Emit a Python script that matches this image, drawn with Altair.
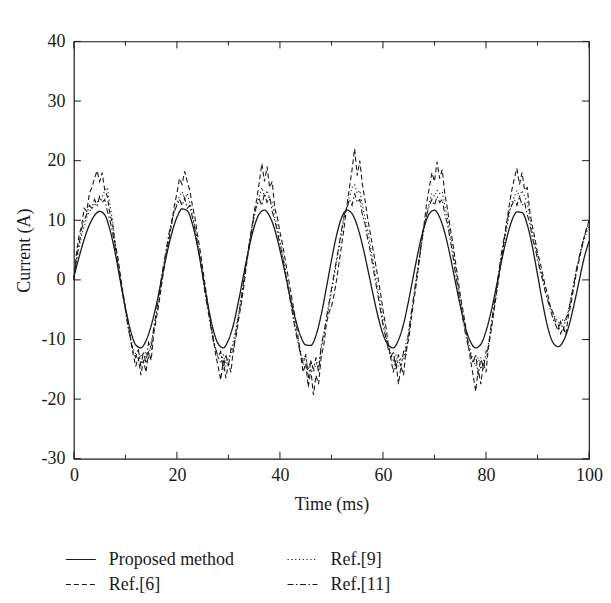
import altair as alt
import pandas as pd

# ---------------- data ----------------
series_names = ["Proposed method", "Ref.[6]", "Ref.[9]", "Ref.[11]"]

# Proposed method, sampled every 1 ms (t = 0 .. 100)
proposed = [
    0.5, 3.8, 6.8, 9.2, 10.8, 11.5, 10.9, 8.4, 4.6, -0.1,
    -4.7, -8.5, -10.9, -11.4, -10.2, -7.7, -4.2, 0.0, 4.2, 7.8,
    10.5, 11.9, 11.6, 9.4, 5.6, 0.8, -4.1, -8.2, -10.7, -11.4,
    -10.1, -7.4, -3.4, 1.1, 5.4, 8.9, 11.1, 11.7, 10.7, 8.4,
    5.0, 1.1, -3.0, -6.6, -9.4, -10.9, -11.0, -9.3, -5.9, -1.4,
    3.3, 7.5, 10.5, 11.7, 11.1, 9.1, 5.9, 2.0, -2.1, -6.0,
    -9.1, -10.9, -11.4, -10.1, -7.4, -3.4, 1.1, 5.4, 8.9, 11.1,
    11.7, 10.5, 7.9, 4.2, -0.1, -4.3, -8.0, -10.4, -11.4, -10.8,
    -8.6, -5.3, -1.2, 3.1, 6.9, 9.9, 11.4, 11.3, 9.3, 5.6,
    0.9, -3.9, -8.0, -10.5, -11.2, -10.3, -8.0, -4.5, -0.5, 3.5,
    6.5,
]

# Ref.[6], sampled every 0.5 ms (t = 0 .. 100)
ref6 = [
    0.0, 4.5, 7.5, 9.0, 12.0, 11.5, 14.5, 15.5, 17.0, 18.3,
    16.5, 18.0, 15.0, 14.0, 11.0, 9.5, 6.0, 4.0, 1.0, -2.0,
    -4.5, -7.0, -10.0, -12.5, -14.5, -13.0, -16.0, -13.5, -15.5, -12.0,
    -13.5, -9.0, -6.5, -4.0, -1.0, 2.0, 4.5, 7.0, 9.5, 12.5,
    14.5, 17.0, 16.0, 18.2, 16.5, 15.0, 12.5, 10.5, 7.5, 5.0,
    2.0, -1.0, -4.0, -7.0, -9.5, -12.5, -14.5, -16.8, -13.5, -16.5,
    -14.0, -15.5, -11.0, -9.5, -6.5, -4.0, -1.0, 2.5, 5.5, 8.5,
    11.5, 13.5, 16.5, 19.5, 16.5, 19.0, 15.5, 16.5, 12.0, 10.5,
    8.0, 6.0, 3.5, 1.0, -1.5, -4.0, -6.5, -9.5, -12.5, -15.5,
    -14.0, -18.0, -15.0, -19.3, -16.0, -17.5, -13.0, -11.0, -7.5, -5.5,
    -4.5, -2.5, 0.0, 3.0, 6.0, 9.0, 12.5, 15.5, 18.5, 22.0,
    17.5, 20.0, 16.0, 13.5, 10.5, 8.0, 5.5, 3.0, 0.5, -2.0,
    -5.0, -7.5, -10.5, -13.0, -15.5, -13.5, -17.5, -14.5, -16.0, -11.5,
    -10.0, -6.5, -3.5, -0.5, 3.0, 6.5, 9.5, 13.0, 15.5, 18.0,
    16.5, 19.8, 17.0, 18.5, 14.5, 12.0, 9.0, 6.5, 3.5, 0.5,
    -2.5, -5.0, -7.5, -10.5, -13.5, -16.0, -18.7, -15.0, -17.5, -14.0,
    -15.5, -11.0, -8.5, -5.5, -2.5, 0.5, 3.5, 6.5, 9.5, 12.5,
    15.0, 17.0, 18.7, 16.0, 18.0, 15.0, 15.5, 11.5, 9.0, 7.0,
    4.5, 3.0, 1.0, -1.0, -2.5, -4.5, -5.5, -7.0, -7.5, -9.0,
    -8.0, -9.2, -6.0, -4.0, -1.5, 1.0, 3.0, 5.0, 7.0, 8.5,
    10.0,
]

# Ref.[9], sampled every 0.5 ms
ref9 = [
    0.5, 3.0, 5.5, 7.5, 9.0, 10.5, 11.5, 12.0, 12.5, 13.0,
    13.5, 14.0, 15.0, 15.5, 12.5, 10.0, 6.5, 3.5, 0.5, -2.5,
    -5.0, -7.5, -9.5, -11.5, -12.5, -13.5, -12.5, -14.0, -12.0, -13.0,
    -10.5, -8.5, -6.0, -3.5, -0.5, 2.5, 5.0, 7.5, 9.5, 11.5,
    13.0, 14.0, 14.8, 13.5, 14.5, 13.0, 11.0, 9.0, 6.5, 4.0,
    1.0, -2.0, -4.5, -7.0, -9.5, -11.5, -13.0, -14.0, -12.5, -14.5,
    -13.0, -12.5, -10.0, -8.0, -5.5, -3.0, 0.0, 3.0, 5.5, 8.0,
    10.5, 12.5, 14.0, 15.5, 14.0, 15.0, 13.5, 13.0, 10.5, 9.0,
    6.5, 4.5, 2.0, -0.5, -3.0, -5.5, -8.0, -10.0, -12.0, -13.5,
    -13.0, -15.0, -13.5, -15.5, -14.0, -14.5, -11.5, -9.5, -7.0, -4.5,
    -2.0, 0.5, 3.0, 5.5, 8.0, 10.5, 12.5, 14.0, 15.5, 16.0,
    14.5, 15.0, 12.5, 10.5, 8.5, 6.0, 3.5, 1.0, -1.5, -4.0,
    -6.5, -9.0, -11.0, -12.5, -13.5, -12.5, -14.5, -13.0, -13.5, -10.5,
    -9.0, -6.0, -3.0, 0.0, 3.0, 6.0, 8.5, 11.0, 13.0, 14.5,
    14.0, 15.0, 14.5, 14.8, 12.5, 10.5, 8.0, 5.5, 2.5, -0.5,
    -3.0, -5.5, -8.0, -10.0, -12.0, -13.5, -14.5, -13.0, -15.0, -13.5,
    -13.5, -10.5, -8.0, -5.5, -2.5, 0.5, 3.5, 6.0, 8.5, 11.0,
    13.0, 14.0, 15.0, 14.0, 15.0, 14.0, 13.0, 10.5, 8.0, 6.0,
    4.0, 2.0, 0.5, -1.5, -3.0, -4.5, -5.5, -6.5, -7.0, -7.5,
    -6.5, -7.0, -5.0, -3.0, -0.5, 1.5, 3.5, 5.0, 6.5, 8.0,
    9.0,
]

# Ref.[11], sampled every 0.5 ms
ref11 = [
    0.0, 3.5, 6.0, 8.5, 10.0, 11.0, 12.5, 12.0, 13.5, 12.5,
    14.0, 13.0, 13.5, 11.5, 10.0, 8.0, 5.5, 3.0, 0.0, -2.5,
    -5.0, -8.0, -10.0, -12.0, -13.0, -11.5, -14.5, -12.0, -14.0, -10.5,
    -11.5, -8.0, -5.5, -2.5, 0.5, 3.0, 5.5, 8.0, 10.0, 11.5,
    12.5, 13.5, 12.5, 13.8, 12.0, 12.5, 10.5, 8.5, 6.0, 3.5,
    0.5, -2.5, -5.0, -7.5, -10.0, -11.5, -13.0, -12.0, -15.0, -12.5,
    -14.5, -11.5, -12.0, -8.5, -6.0, -3.0, 0.0, 3.0, 6.0, 8.5,
    11.0, 12.5, 13.5, 12.5, 14.5, 13.0, 14.0, 11.5, 10.0, 8.0,
    6.0, 4.0, 1.5, -1.0, -3.5, -6.0, -8.5, -10.5, -12.5, -14.0,
    -12.5, -16.5, -13.5, -15.0, -13.0, -15.5, -11.0, -9.0, -6.5, -4.0,
    -1.5, 1.0, 3.5, 6.0, 8.5, 11.0, 12.0, 13.5, 12.5, 14.5,
    13.0, 13.5, 11.0, 9.5, 7.0, 5.0, 2.5, 0.0, -2.5, -5.0,
    -7.5, -9.5, -11.5, -13.0, -12.0, -15.0, -12.5, -14.5, -12.0, -12.5,
    -8.5, -5.5, -2.5, 0.5, 3.5, 6.5, 9.0, 11.0, 12.5, 13.5,
    12.5, 14.0, 13.0, 13.5, 11.0, 9.5, 7.0, 4.5, 1.5, -1.0,
    -4.0, -6.5, -9.0, -11.0, -12.5, -14.0, -12.5, -16.0, -13.0, -15.0,
    -12.0, -11.5, -7.5, -4.5, -1.5, 1.5, 4.5, 7.0, 9.5, 11.5,
    12.5, 13.5, 12.5, 14.0, 12.5, 13.0, 11.0, 9.5, 7.0, 5.5,
    3.5, 1.5, 0.0, -2.0, -3.5, -5.0, -6.5, -7.5, -8.5, -7.0,
    -8.5, -6.5, -5.5, -3.0, -1.0, 1.5, 3.5, 5.5, 7.0, 8.5,
    9.5,
]

y_tick_values = [-30, -20, -10, 0, 10, 20, 30, 40]
x_major_ticks = [0, 20, 40, 60, 80, 100]
x_minor_ticks = [10, 30, 50, 70, 90]

# ---------------- tables ----------------
t_prop = [float(i) for i in range(len(proposed))]
t_ref = [i * 0.5 for i in range(len(ref6))]

frames = [
    pd.DataFrame({"t": t_prop, "v": proposed, "series": "Proposed method"}),
    pd.DataFrame({"t": t_ref, "v": ref6, "series": "Ref.[6]"}),
    pd.DataFrame({"t": t_ref, "v": ref9, "series": "Ref.[9]"}),
    pd.DataFrame({"t": t_ref, "v": ref11, "series": "Ref.[11]"}),
]
data = pd.concat(frames, ignore_index=True)

ytick_df = pd.DataFrame({"v": y_tick_values})
xmaj_df = pd.DataFrame({"t": x_major_ticks})
xmin_df = pd.DataFrame({"t": x_minor_ticks})

FONT = "Liberation Serif"
W, H = 516, 418
INK = "#1a1a1a"

x_scale = alt.Scale(domain=[0, 100], nice=False, zero=False)
y_scale = alt.Scale(domain=[-30, 40], nice=False, zero=False)

dash_scale = alt.Scale(
    domain=series_names,
    range=[[1, 0], [5, 3], [1.2, 2.6], [6, 2.5, 1.5, 2.5]],
)

legend = alt.Legend(
    title=None,
    orient="none",
    legendX=-9,
    legendY=503,
    columns=2,
    columnPadding=50,
    rowPadding=-7,
    symbolType="stroke",
    symbolSize=900,
    symbolStrokeWidth=1.1,
    symbolStrokeColor=INK,
    labelFont=FONT,
    labelFontSize=18,
    labelColor=INK,
    labelOffset=12,
    labelLimit=400,
    padding=0,
)

x_axis = alt.Axis(
    values=x_major_ticks,
    ticks=False,
    tickSize=0,
    domain=False,
    grid=False,
    labelFlush=False,
    labelPadding=8,
    labelFont=FONT,
    labelFontSize=18,
    labelColor=INK,
    labelExpr="'' + datum.value",
    title="Time (ms)",
    titleFont=FONT,
    titleFontSize=18,
    titleFontWeight="normal",
    titleColor=INK,
    titlePadding=11,
)
y_axis = alt.Axis(
    values=y_tick_values,
    ticks=False,
    tickSize=0,
    domain=False,
    grid=False,
    labelFlush=False,
    labelPadding=9,
    labelFont=FONT,
    labelFontSize=18,
    labelColor=INK,
    labelExpr="'' + datum.value",
    title="Current (A)",
    titleFont=FONT,
    titleFontSize=18,
    titleFontWeight="normal",
    titleColor=INK,
    titlePadding=7,
)

base = alt.Chart(data)

solid = base.transform_filter(alt.datum.series == "Proposed method").mark_line(
    interpolate="monotone", color=INK, strokeWidth=1.3
).encode(
    x=alt.X("t:Q", scale=x_scale, axis=x_axis),
    y=alt.Y("v:Q", scale=y_scale, axis=y_axis),
    strokeDash=alt.StrokeDash("series:N", scale=dash_scale, legend=legend),
)

refs = base.transform_filter(alt.datum.series != "Proposed method").mark_line(
    color=INK, strokeWidth=1.1
).encode(
    x=alt.X("t:Q", scale=x_scale, axis=x_axis),
    y=alt.Y("v:Q", scale=y_scale, axis=y_axis),
    strokeDash=alt.StrokeDash("series:N", scale=dash_scale, legend=legend),
)

left_ticks = alt.Chart(ytick_df).mark_rule(color=INK, strokeWidth=1).encode(
    y=alt.Y("v:Q", scale=y_scale, axis=y_axis), x=alt.value(0), x2=alt.value(7)
)
right_ticks = alt.Chart(ytick_df).mark_rule(color=INK, strokeWidth=1).encode(
    y=alt.Y("v:Q", scale=y_scale, axis=y_axis), x=alt.value(W - 7), x2=alt.value(W)
)
bottom_major = alt.Chart(xmaj_df).mark_rule(color=INK, strokeWidth=1).encode(
    x=alt.X("t:Q", scale=x_scale, axis=x_axis), y=alt.value(H), y2=alt.value(H - 7)
)
top_major = alt.Chart(xmaj_df).mark_rule(color=INK, strokeWidth=1).encode(
    x=alt.X("t:Q", scale=x_scale, axis=x_axis), y=alt.value(0), y2=alt.value(7)
)
bottom_minor = alt.Chart(xmin_df).mark_rule(color=INK, strokeWidth=1).encode(
    x=alt.X("t:Q", scale=x_scale, axis=x_axis), y=alt.value(H), y2=alt.value(H - 4)
)
top_minor = alt.Chart(xmin_df).mark_rule(color=INK, strokeWidth=1).encode(
    x=alt.X("t:Q", scale=x_scale, axis=x_axis), y=alt.value(0), y2=alt.value(4)
)

chart = alt.layer(
    solid, refs, left_ticks, right_ticks, bottom_major, top_major, bottom_minor, top_minor
).properties(
    width=W,
    height=H,
    autosize=alt.AutoSizeParams(type="none"),
    padding={"left": 66, "top": 33, "right": 14, "bottom": 136},
    background="white",
).configure_view(
    stroke=INK, strokeWidth=1.2
)

chart.save("out.html", embed_options={"renderer": "svg", "actions": False})
